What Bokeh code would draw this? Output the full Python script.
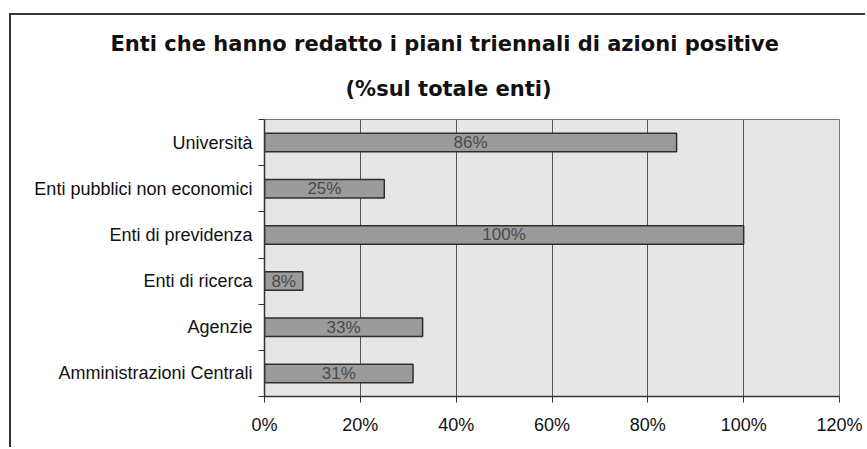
from bokeh.plotting import figure
from bokeh.models import Range1d, FixedTicker, ColumnDataSource, Title
from bokeh.core.properties import value
from bokeh.embed import file_html
from bokeh.resources import INLINE

# ---- data (top to bottom as displayed) ----
categories = ["Università", "Enti pubblici non economici", "Enti di previdenza",
              "Enti di ricerca", "Agenzie", "Amministrazioni Centrali"]
percent = [86, 25, 100, 8, 33, 31]
x_ticks = [0, 20, 40, 60, 80, 100, 120]
title_lines = ["Enti che hanno redatto i piani triennali di azioni positive",
               "(%sul totale enti)"]

FONT = "Liberation Sans"
TFONT = "DejaVu Sans"
n = len(categories)
ypos = [n - 1 - i for i in range(n)]
src = ColumnDataSource(dict(
    y=ypos, v=percent, half=[v / 2 for v in percent],
    lab=[f"{v}%" for v in percent]))

p = figure(width=856, height=434, output_backend="svg", toolbar_location=None,
           x_range=Range1d(0, 120), y_range=Range1d(-0.5, n - 0.5),
           min_border_left=253, min_border_right=28, min_border_top=104,
           min_border_bottom=53)
p.styles = {"margin-left": "9px", "margin-top": "13px",
            "border-left": "2px solid #333333",
            "border-top": "2px solid #333333"}
p.background_fill_color = "#e6e6e6"
p.border_fill_color = "white"
p.outline_line_color = "#777777"
p.outline_line_width = 1

# title: two lines stacked, nearest to the frame added first
for txt, off, so in [(title_lines[1], 81, 37), (title_lines[0], -154, 2)]:
    p.add_layout(Title(text=txt, align="left", offset=off, standoff=so,
                       text_font=TFONT, text_font_style="bold",
                       text_font_size="21px", text_color="#111111"), "above")

p.hbar(y="y", right="v", left=0, height=0.40, source=src,
       fill_color="#9b9b9b", line_color="#2e2e2e", line_width=1.5)
p.text(x="half", y="y", text="lab", source=src, text_align="center",
       text_baseline="middle", text_font=value(FONT), text_font_size="17px",
       text_color="#4a4a4a")

p.xaxis.ticker = FixedTicker(ticks=x_ticks)
p.xaxis.major_label_overrides = {tk: f"{tk}%" for tk in x_ticks}
p.xaxis.major_label_text_font = FONT
p.xaxis.major_label_text_font_size = "18px"
p.xaxis.major_label_text_color = "#111111"
p.xaxis.major_label_standoff = 12
p.xaxis.major_tick_out = 6
p.xaxis.major_tick_in = 0
p.xaxis.minor_tick_line_color = None
p.xaxis.axis_line_color = "#333333"
p.xaxis.axis_line_width = 1.5
p.xaxis.major_tick_line_color = "#333333"

p.yaxis.ticker = FixedTicker(ticks=ypos,
                             minor_ticks=[k - 0.5 for k in range(n + 1)])
p.yaxis.major_label_overrides = {y: c for y, c in zip(ypos, categories)}
p.yaxis.major_label_text_font = FONT
p.yaxis.major_label_text_font_size = "18px"
p.yaxis.major_label_text_color = "#111111"
p.yaxis.major_tick_line_color = None
p.yaxis.major_label_standoff = 6
p.yaxis.minor_tick_out = 6
p.yaxis.minor_tick_in = 0
p.yaxis.minor_tick_line_color = "#333333"
p.yaxis.axis_line_color = "#333333"
p.yaxis.axis_line_width = 1.5

p.xgrid.ticker = FixedTicker(ticks=x_ticks)
p.xgrid.grid_line_color = "#555555"
p.xgrid.grid_line_width = 1
p.ygrid.grid_line_color = None

open("out.html", "w").write(file_html(p, INLINE))
